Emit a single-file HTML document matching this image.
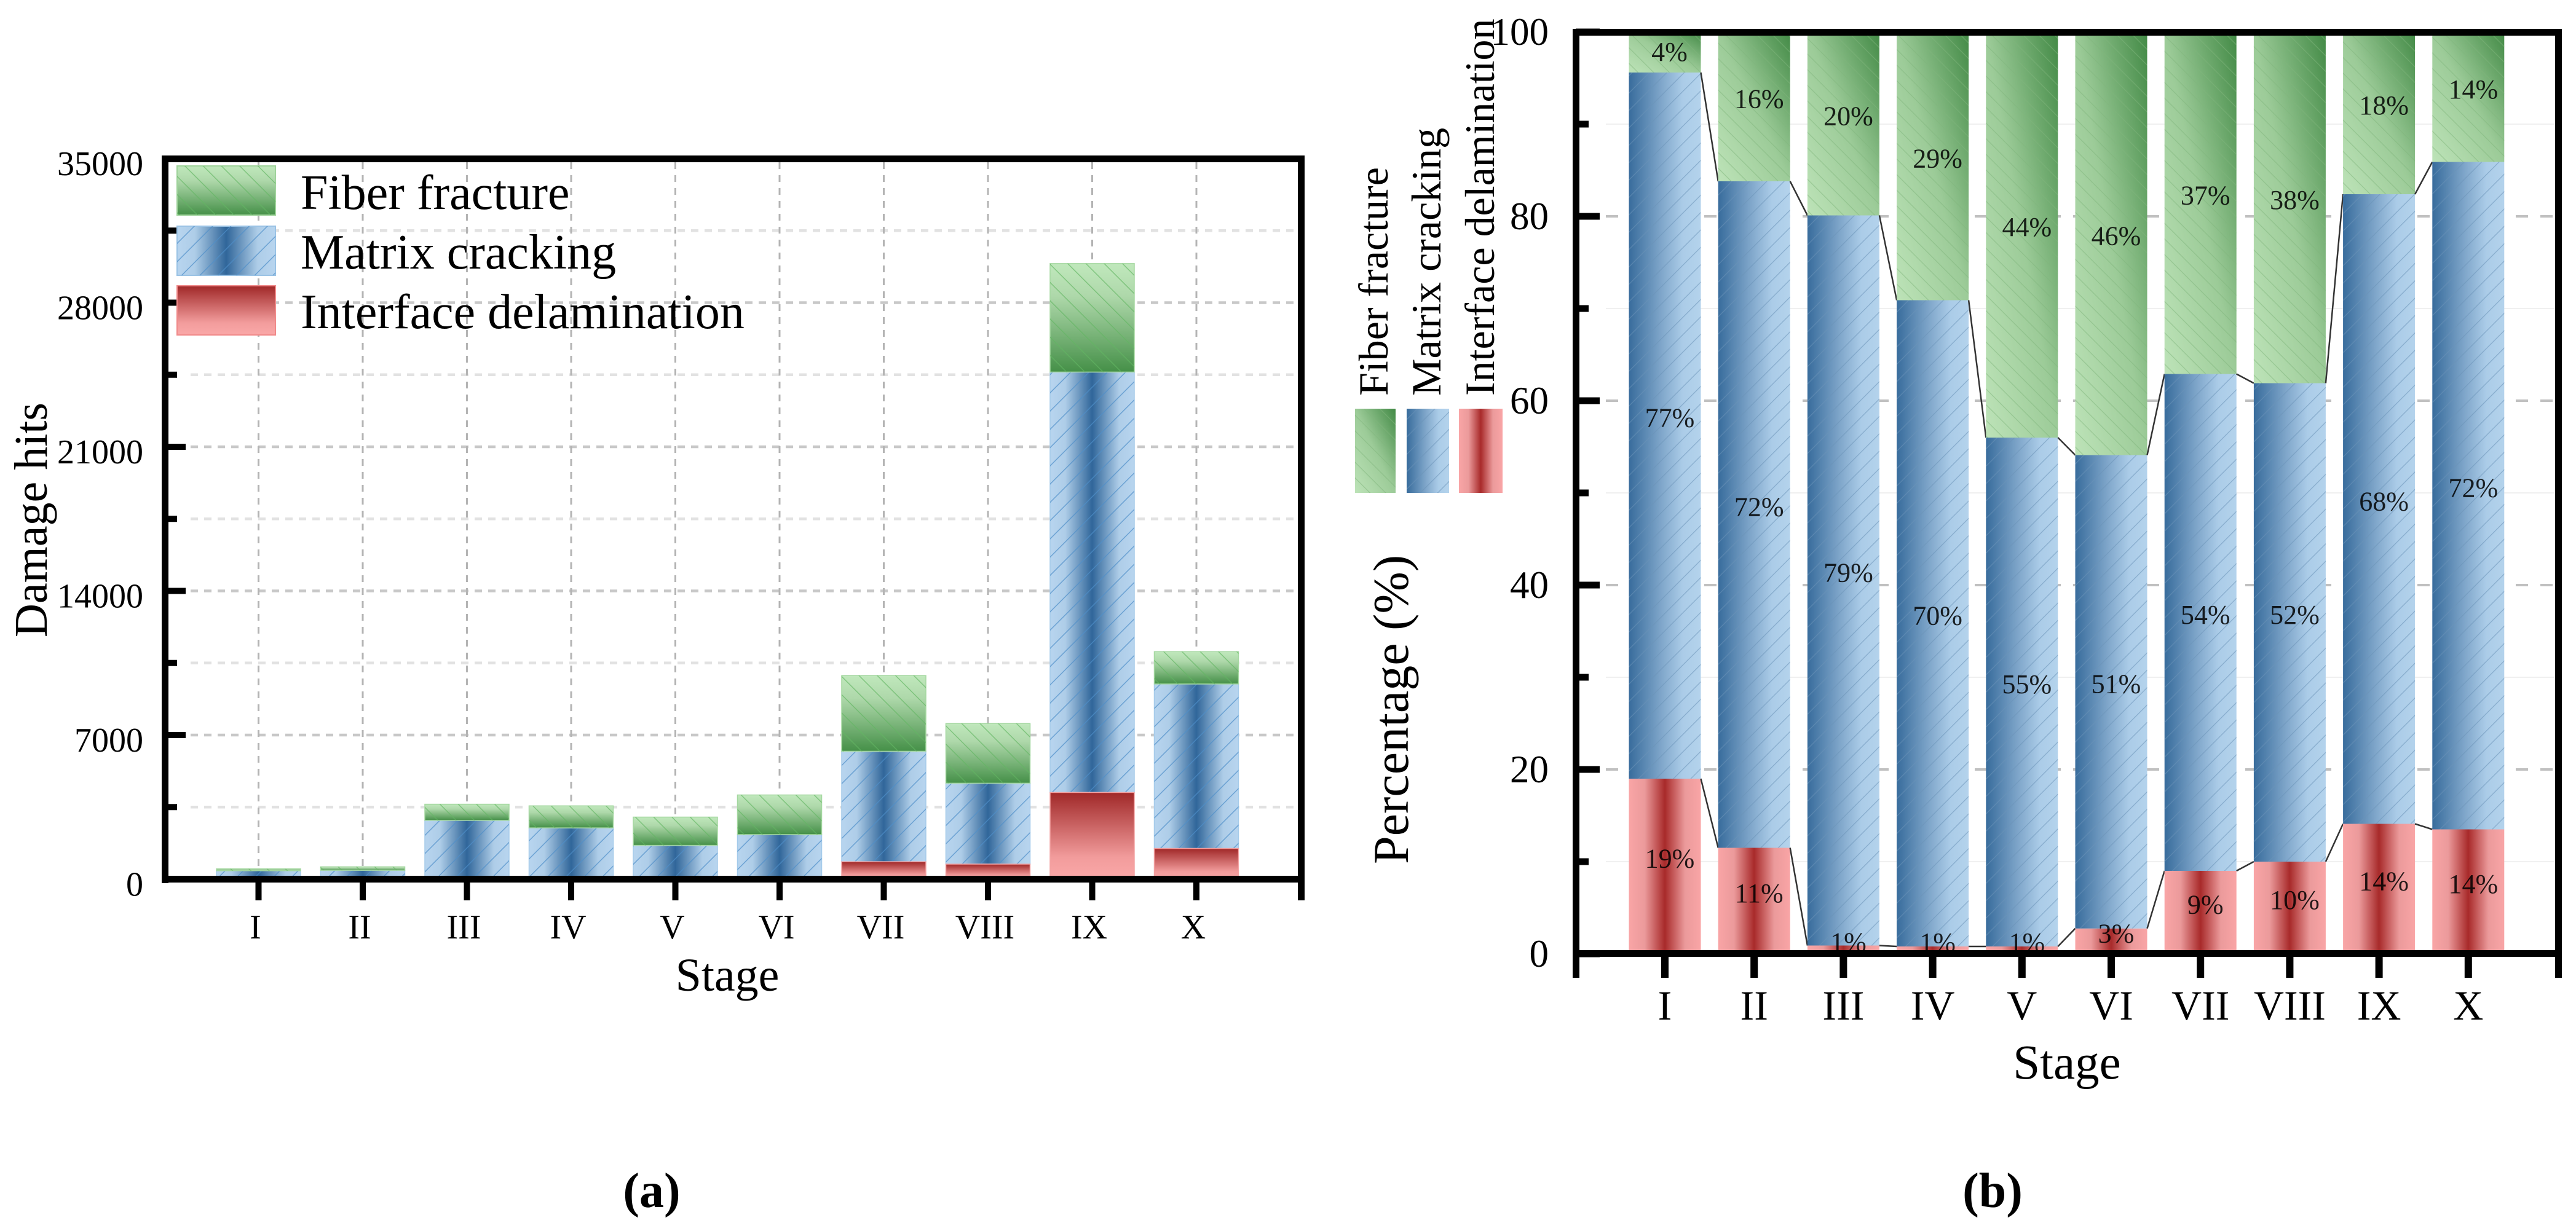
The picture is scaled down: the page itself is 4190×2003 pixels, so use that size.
<!DOCTYPE html>
<html lang="en">
<head>
<meta charset="utf-8">
<title>Damage hits and percentage by stage</title>
<style>
html,body{margin:0;padding:0;background:#fff;width:4190px;height:2003px;overflow:hidden}
svg{display:block}
text{font-family:"Liberation Serif",serif;fill:#000}
</style>
</head>
<body>
<svg id="fig" xmlns="http://www.w3.org/2000/svg" width="4190" height="2003" viewBox="0 0 4190 2003">
<defs>
  <linearGradient id="aFiber" x1="0" y1="0" x2="0" y2="1"><stop offset="0" stop-color="#c0e8bc"/><stop offset="0.3" stop-color="#aed8aa"/><stop offset="1" stop-color="#459048"/></linearGradient>
  <linearGradient id="aMatrix" x1="0" y1="0" x2="1" y2="0"><stop offset="0" stop-color="#b8d5ef"/><stop offset="0.18" stop-color="#aecde8"/><stop offset="0.5" stop-color="#30669a"/><stop offset="0.82" stop-color="#aecde8"/><stop offset="1" stop-color="#b8d5ef"/></linearGradient>
  <linearGradient id="aInter" x1="0" y1="0" x2="0" y2="1"><stop offset="0" stop-color="#a02828"/><stop offset="0.75" stop-color="#f29c9c"/><stop offset="1" stop-color="#faa8a8"/></linearGradient>
  <linearGradient id="bFiber" x1="1" y1="0" x2="0" y2="1"><stop offset="0" stop-color="#438a46"/><stop offset="0.5" stop-color="#9ccb98"/><stop offset="1" stop-color="#bde3b8"/></linearGradient>
  <linearGradient id="bMatrix" x1="0" y1="0" x2="1" y2="0"><stop offset="0" stop-color="#386c9c"/><stop offset="0.45" stop-color="#7fa6ca"/><stop offset="0.75" stop-color="#abcce8"/><stop offset="1" stop-color="#b4d3ec"/></linearGradient>
  <linearGradient id="bInter" x1="0" y1="0" x2="1" y2="0"><stop offset="0" stop-color="#f9a5a6"/><stop offset="0.22" stop-color="#eb9a9b"/><stop offset="0.5" stop-color="#a82a2a"/><stop offset="0.78" stop-color="#eb9a9b"/><stop offset="1" stop-color="#f9a5a6"/></linearGradient>
  <pattern id="aHatchF" width="21" height="21" patternUnits="userSpaceOnUse" patternTransform="rotate(-45)"><line x1="0" y1="0" x2="0" y2="21" stroke="#62b562" stroke-width="3" stroke-opacity="0.65"/></pattern>
  <pattern id="aHatchM" width="21" height="21" patternUnits="userSpaceOnUse" patternTransform="rotate(45)"><line x1="0" y1="0" x2="0" y2="21" stroke="#4f8fc9" stroke-width="3" stroke-opacity="0.7"/></pattern>
  <pattern id="bHatchF" width="18" height="18" patternUnits="userSpaceOnUse" patternTransform="rotate(-45)"><line x1="0" y1="0" x2="0" y2="18" stroke="#7fb47c" stroke-width="2.5" stroke-opacity="0.55"/></pattern>
  <pattern id="bHatchM" width="20" height="20" patternUnits="userSpaceOnUse" patternTransform="rotate(45)"><line x1="0" y1="0" x2="0" y2="20" stroke="#6b93b8" stroke-width="2.5" stroke-opacity="0.6"/></pattern>
</defs>
<g id="chartA"></g>
<g id="chartB"></g>

<g>
  <g>
    <rect x="288" y="270" width="160" height="80" fill="url(#aFiber)" stroke="#9fd39b" stroke-width="2"/>
    <rect x="288" y="270" width="160" height="80" fill="url(#aHatchF)"/>
    <text x="489" y="340" font-size="80">Fiber fracture</text>
  </g>
  <g>
    <rect x="288" y="368" width="160" height="80" fill="url(#aMatrix)" stroke="#9bc3e5" stroke-width="2"/>
    <rect x="288" y="368" width="160" height="80" fill="url(#aHatchM)"/>
    <text x="489" y="437" font-size="80">Matrix cracking</text>
  </g>
  <g>
    <rect x="288" y="465" width="160" height="80" fill="url(#aInter)" stroke="#f08a8a" stroke-width="2"/>
    <text x="489" y="534" font-size="80">Interface delamination</text>
  </g>
</g>

<g>
  <g>
    <rect x="2204" y="665" width="66" height="137" fill="url(#bFiber)"/>
    <rect x="2204" y="665" width="66" height="137" fill="url(#bHatchF)"/>
    <text transform="translate(2257 644) rotate(-90)" font-size="68">Fiber fracture</text>
  </g>
  <g>
    <rect x="2288" y="665" width="69" height="137" fill="url(#bMatrix)"/>
    <rect x="2288" y="665" width="69" height="137" fill="url(#bHatchM)"/>
    <text transform="translate(2343 644) rotate(-90)" font-size="68">Matrix cracking</text>
  </g>
  <g>
    <rect x="2373" y="665" width="71" height="137" fill="url(#bInter)"/>
    <text transform="translate(2430 644) rotate(-90)" font-size="68">Interface delamination</text>
  </g>
</g>

<text transform="translate(76 1037) rotate(-90)" font-size="76">Damage hits</text>
<text x="1183" y="1612" font-size="76" text-anchor="middle">Stage</text>
<text transform="translate(2290 1406) rotate(-90)" font-size="82">Percentage (%)</text>
<text x="3362" y="1755" font-size="79" text-anchor="middle">Stage</text>
<text x="1060" y="1964" font-size="80" font-weight="bold" text-anchor="middle">(a)</text>
<text x="3241" y="1964" font-size="80" font-weight="bold" text-anchor="middle">(b)</text>
</svg>

<script>
const stages = ['I','II','III','IV','V','VI','VII','VIII','IX','X'];

/* Panel (a): damage hits */
const hitsInterface = [95,66,36,36,30,120,845,730,4210,1490];
const hitsMatrix = [315,364,2819,2454,1610,2045,5365,3930,20420,7990];
const hitsFiber = [90,170,785,1070,1375,1925,3680,2900,5270,1570];
const hitsMajorTicks = [0,7000,14000,21000,28000,35000];
const hitsMinorTicks = [3500,10500,17500,24500,31500];

/* Panel (b): percentage */
const pctInterface = [19,11.5,0.9,0.8,0.8,2.75,9,10,14.1,13.5];
const pctMatrix = [76.6,72.3,79.2,70.1,55.2,51.35,53.9,51.9,68.3,72.4];
const pctFiber = [4.4,16.2,19.9,29.1,44,45.9,37.1,38.1,17.6,14.1];
const printedInterface = [19,11,1,1,1,3,9,10,14,14];
const printedMatrix = [77,72,79,70,55,51,54,52,68,72];
const printedFiber = [4,16,20,29,44,46,37,38,18,14];
const pctMajorTicks = [0,20,40,60,80,100];
const pctMinorTicks = [10,30,50,70,90];

const NS = 'http://www.w3.org/2000/svg';
function make(parent, tag, props, txt) {
  const n = document.createElementNS(NS, tag);
  for (const k in props) n.setAttribute(k, props[k]);
  if (txt !== undefined) n.textContent = txt;
  parent.appendChild(n);
  return n;
}

const A = document.getElementById('chartA');
const B = document.getElementById('chartB');

const ax = i => 420.5 + 169.5 * i;
const ay = v => 1430.5 - v * (1172.5 / 35000);
const bx = i => 2708 + 145.2 * i;
const by = v => 1552 - v * 15;
const A_W = 137, B_W = 117;
let el;

/* ---------- Panel A grid ---------- */
hitsMajorTicks.concat(hitsMinorTicks).forEach(v => {
  if (v === 0 || v === 35000) return;
  const minor = hitsMinorTicks.includes(v);
  el = make(A, 'line', {x1: 310, x2: 2111, y1: ay(v), y2: ay(v), stroke: minor ? '#e2e2e2' : '#c8c8c8', 'stroke-width': 4.5, 'stroke-dasharray': '12 10'});
  
  
});
stages.forEach((s, i) => {
  el = make(A, 'line', {x1: ax(i), x2: ax(i), y1: 264, y2: 1425, stroke: '#b4b4b4', 'stroke-width': 3, 'stroke-dasharray': '11 10'});
  
  
});

/* ---------- Panel A bars ---------- */
stages.forEach((s, i) => {
  const x = ax(i) - A_W / 2;
  const c1 = hitsInterface[i], c2 = c1 + hitsMatrix[i], c3 = c2 + hitsFiber[i];
  el = make(A, 'rect', {x: x, y: ay(c2), width: A_W, height: ay(c1) - ay(c2), fill: 'url(#aMatrix)', stroke: '#a5cbea', 'stroke-width': 1.5});
  
  
  el = make(A, 'rect', {x: x, y: ay(c2), width: A_W, height: ay(c1) - ay(c2), fill: 'url(#aHatchM)'});
  
  
  el = make(A, 'rect', {x: x, y: ay(c3), width: A_W, height: ay(c2) - ay(c3), fill: 'url(#aFiber)', stroke: '#a5d8a1', 'stroke-width': 1.5});
  
  
  el = make(A, 'rect', {x: x, y: ay(c3), width: A_W, height: ay(c2) - ay(c3), fill: 'url(#aHatchF)'});
  
  
  el = make(A, 'rect', {x: x, y: ay(c1), width: A_W, height: ay(0) - ay(c1), fill: 'url(#aInter)', stroke: '#f3a3a3', 'stroke-width': 1.5});
  
  
});

/* ---------- Panel A axes ---------- */
[[263, 253, 11, 1184], [2111, 253, 11, 1212]].forEach(r => {
  el = make(A, 'rect', {x: r[0], y: r[1], width: r[2], height: r[3], fill: '#000'});
  
  
});
[[263, 253, 1859, 11], [263, 1425, 1859, 11]].forEach(r => {
  el = make(A, 'rect', {x: r[0], y: r[1], width: r[2], height: r[3], fill: '#000'});
  
  
});
hitsMajorTicks.forEach(v => {
  el = make(A, 'rect', {x: 268, y: ay(v) - 5, width: 34, height: 10, fill: '#000'});
  
  
  el = make(A, 'text', {x: 233, y: ay(v) + 27, 'font-size': 56, 'text-anchor': 'end'}, String(v));
  
  
});
hitsMinorTicks.forEach(v => {
  el = make(A, 'rect', {x: 268, y: ay(v) - 5, width: 20, height: 10, fill: '#000'});
  
  
});
stages.forEach((s, i) => {
  el = make(A, 'rect', {x: ax(i) - 5, y: 1430, width: 10, height: 35, fill: '#000'});
  
  
  el = make(A, 'text', {x: ax(i) - 5, y: 1527, 'font-size': 56, 'text-anchor': 'middle'}, s);
  
  
});

/* ---------- Panel B grid ---------- */
pctMajorTicks.concat(pctMinorTicks).forEach(v => {
  if (v === 0 || v === 100) return;
  const minor = pctMinorTicks.includes(v);
  el = make(B, 'line', {x1: 2612, x2: 4156, y1: by(v), y2: by(v), stroke: minor ? '#f0f0f0' : '#c0c0c0', 'stroke-width': minor ? 2 : 4, 'stroke-dasharray': minor ? 'none' : '20 20'});
  
  
});

/* ---------- Panel B bars ---------- */
stages.forEach((s, i) => {
  const x = bx(i) - B_W / 2;
  const c1 = pctInterface[i], c2 = c1 + pctMatrix[i], c3 = c2 + pctFiber[i];
  el = make(B, 'rect', {x: x, y: by(c1), width: B_W, height: by(0) - by(c1), fill: 'url(#bInter)'});
  
  
  el = make(B, 'rect', {x: x, y: by(c2), width: B_W, height: by(c1) - by(c2), fill: 'url(#bMatrix)'});
  
  
  el = make(B, 'rect', {x: x, y: by(c2), width: B_W, height: by(c1) - by(c2), fill: 'url(#bHatchM)'});
  
  
  el = make(B, 'rect', {x: x, y: by(c3), width: B_W, height: by(c2) - by(c3), fill: 'url(#bFiber)'});
  
  
  el = make(B, 'rect', {x: x, y: by(c3), width: B_W, height: by(c2) - by(c3), fill: 'url(#bHatchF)'});
  
  
  if (i < stages.length - 1) {
    const n1 = pctInterface[i + 1], n2 = n1 + pctMatrix[i + 1];
    el = make(B, 'line', {x1: x + B_W, y1: by(c1), x2: bx(i + 1) - B_W / 2, y2: by(n1), stroke: '#333', 'stroke-width': 2.5});
    
    
    el = make(B, 'line', {x1: x + B_W, y1: by(c2), x2: bx(i + 1) - B_W / 2, y2: by(n2), stroke: '#333', 'stroke-width': 2.5});
    
    
  }
});

/* ---------- Panel B axes ---------- */
[[2558, 47, 11, 1544], [4156, 47, 11, 1544]].forEach(r => {
  el = make(B, 'rect', {x: r[0], y: r[1], width: r[2], height: r[3], fill: '#000'});
  
  
});
[[2558, 47, 1609, 11], [2558, 1546, 1609, 11]].forEach(r => {
  el = make(B, 'rect', {x: r[0], y: r[1], width: r[2], height: r[3], fill: '#000'});
  
  
});

/* ---------- Panel B value labels ---------- */
stages.forEach((s, i) => {
  const c1 = pctInterface[i], c2 = c1 + pctMatrix[i], c3 = c2 + pctFiber[i];
  el = make(B, 'text', {x: bx(i) + 8, y: (by(0) + by(c1)) / 2 + 2, 'font-size': 44, 'text-anchor': 'middle', 'fill-opacity': 0.85}, printedInterface[i] + '%');
  
  
  el = make(B, 'text', {x: bx(i) + 8, y: (by(c1) + by(c2)) / 2 + 2, 'font-size': 44, 'text-anchor': 'middle', 'fill-opacity': 0.85}, printedMatrix[i] + '%');
  
  
  el = make(B, 'text', {x: bx(i) + 3 + Math.min(5, pctFiber[i]), y: Math.max((by(c2) + by(c3)) / 2 + 2, by(100) + 47), 'font-size': 44, 'text-anchor': 'middle', 'fill-opacity': 0.85}, printedFiber[i] + '%');
  
  
});

pctMajorTicks.forEach(v => {
  el = make(B, 'rect', {x: 2563, y: by(v) - 5.5, width: 39, height: 11, fill: '#000'});
  
  
  el = make(B, 'text', {x: 2519, y: by(v) + 21, 'font-size': 63, 'text-anchor': 'end'}, String(v));
  
  
});
pctMinorTicks.forEach(v => {
  el = make(B, 'rect', {x: 2563, y: by(v) - 5.5, width: 21, height: 11, fill: '#000'});
  
  
});
stages.forEach((s, i) => {
  el = make(B, 'rect', {x: bx(i) - 6, y: 1552, width: 12, height: 39, fill: '#000'});
  
  
  el = make(B, 'text', {x: bx(i), y: 1659, 'font-size': 68, 'text-anchor': 'middle'}, s);
  
  
});
</script>
</body>
</html>
